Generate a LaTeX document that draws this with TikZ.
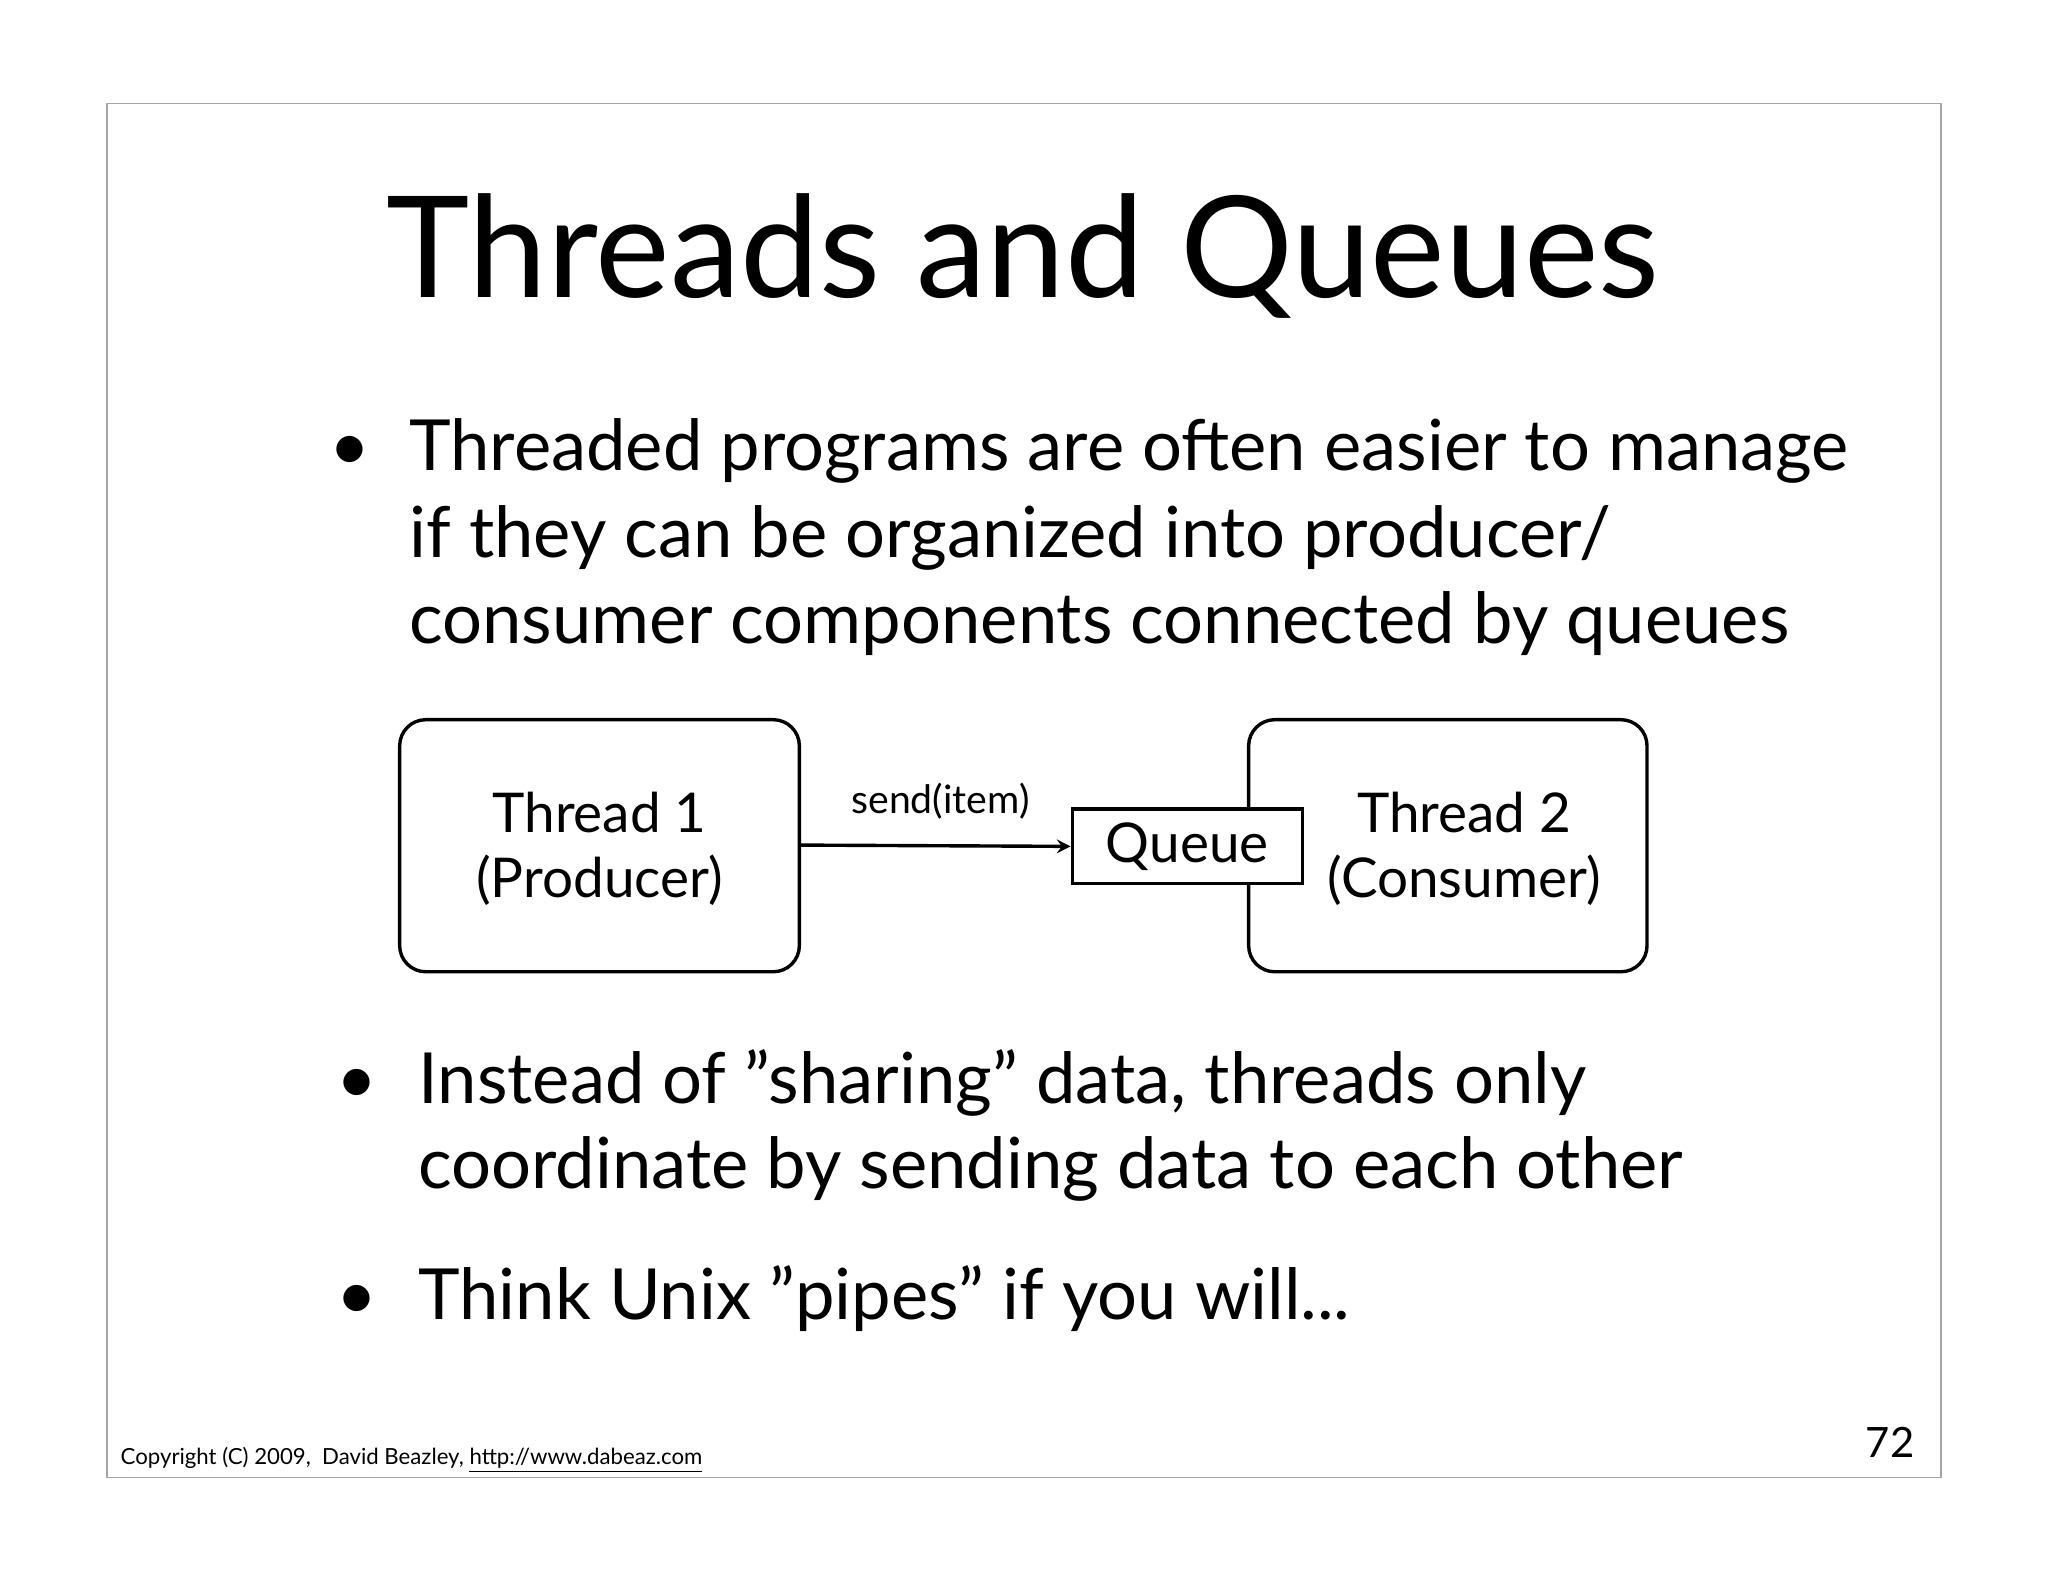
\documentclass[tikz,border=0pt]{standalone}
\usepackage{fontspec}
\setmainfont{Lato}
\begin{document}
\begin{tikzpicture}[x=0.5pt,y=-0.5pt,
  tbox/.style={draw,line width=1.3pt,rounded corners=10pt},
  big/.style={font=\fontsize{27}{32}\selectfont,anchor=base west,inner sep=0},
  mid/.style={font=\fontsize{21}{25}\selectfont,align=center}]
\useasboundingbox (0,0) rectangle (1568,1211);
\draw[gray!70,line width=0.5pt] (82,79) rectangle (1486,1131);
\node[font=\fontsize{54}{60}\selectfont,anchor=base,inner sep=0] (title) at (783,228) {Threads and Queues};
\node[big] (b1) at (252,360) {\textbullet};
\node[big] (l1) at (313,360) {Threaded programs are often easier to manage};
\node[big] (l2) at (313,427) {if they can be organized into producer/};
\node[big] (l3) at (313,493) {consumer components connected by queues};
\draw[tbox] (306,551) rectangle (612,744);
\node[mid] (t1) at (459,650) {Thread 1\\(Producer)};
\draw[tbox] (956,551) rectangle (1261,744);
\node[mid] (t2) at (1121,650) {Thread 2\\(Consumer)};
\node[draw,fill=white,line width=1.3pt,minimum width=88pt,minimum height=28.5pt,font=\fontsize{21}{25}\selectfont,inner sep=0] (q) at (909,648) {Queue};
\coordinate (a) at (612,647);
\draw[line width=1.3pt,-stealth] (a) -- (q.west);
\node[font=\fontsize{15}{18}\selectfont,anchor=base,inner sep=0] (s) at (720,623) {send(item)};
\node[big] (b2) at (257,845) {\textbullet};
\node[big] (l4) at (320,845) {Instead of "sharing" data, threads only};
\node[big] (l5) at (320,910) {coordinate by sending data to each other};
\node[big] (b3) at (257,1010) {\textbullet};
\node[big] (l6) at (320,1010) {Think Unix "pipes" if you will...};
\node[font=\fontsize{8.5}{10}\selectfont,anchor=base west,inner sep=0] (c) at (92,1121) {Copyright (C) 2009,\ \ David Beazley, \underline{http://www.dabeaz.com}};
\node[font=\fontsize{16}{19}\selectfont,anchor=base east,inner sep=0] (n) at (1466,1116) {72};
\end{tikzpicture}
\end{document}
